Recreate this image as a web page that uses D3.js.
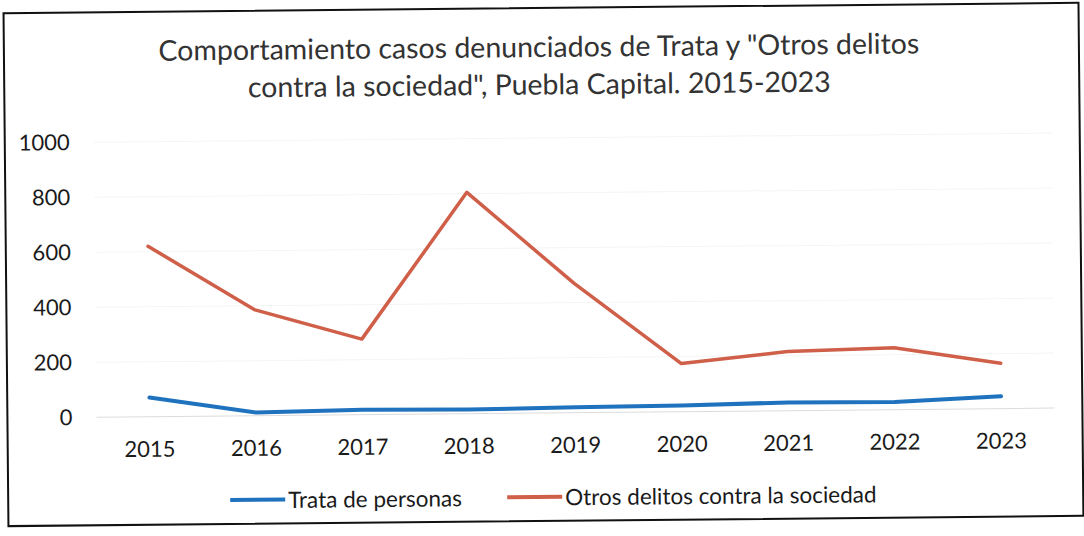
<!DOCTYPE html>
<html>
<head>
<meta charset="utf-8">
<script src="https://cdn.jsdelivr.net/npm/d3@7"></script>
<style>
  html, body { margin: 0; padding: 0; background: #ffffff; }
  svg { display: block; }
  text { font-family: Lato, "Open Sans", sans-serif; }
</style>
</head>
<body>
<svg id="chart" width="1084" height="536"></svg>
<script>
const years = ["2015","2016","2017","2018","2019","2020","2021","2022","2023"];
const trata = [70, 12, 18, 15, 20, 22, 30, 28, 45];
const otros = [620, 385, 275, 805, 470, 175, 215, 225, 165];
const yTicks = [0, 200, 400, 600, 800, 1000];
const titleLines = ["Comportamiento casos denunciados de Trata y \"Otros delitos", "contra la sociedad\", Puebla Capital. 2015-2023"];
const seriesNames = ["Trata de personas", "Otros delitos contra la sociedad"];
const colors = ["#1f72bd", "#cf5f48"];

const svg = d3.select("#chart");
const root = svg.append("g").attr("transform", "rotate(-0.55, 542, 268)");

// frame
root.append("rect")
  .attr("x", 6).attr("y", 8).attr("width", 1075).attr("height", 513)
  .attr("fill", "#ffffff").attr("stroke", "#111").attr("stroke-width", 2);

const plot = { left: 95, right: 1053, top: 138, bottom: 413 };

const x = d3.scaleBand().domain(years).range([plot.left, plot.right]);
const y = d3.scaleLinear().domain([0, 1000]).range([plot.bottom, plot.top]);

// gridlines (very faint)
root.append("g").selectAll("line").data(yTicks).join("line")
  .attr("x1", plot.left).attr("x2", plot.right)
  .attr("y1", d => y(d)).attr("y2", d => y(d))
  .attr("stroke", d => d === 0 ? "#dcdcdc" : "#f4f4f4")
  .attr("stroke-width", 1);

// y axis labels
const yAxis = d3.axisLeft(y).tickValues(yTicks).tickFormat(d3.format("d")).tickSize(0).tickPadding(0);
const gy = root.append("g").attr("transform", `translate(71,0)`).call(yAxis);
gy.select(".domain").remove();
gy.selectAll("text").attr("font-size", 22).attr("fill", "#1a1a1a");

// x axis labels
const xAxis = d3.axisBottom(x).tickSize(0).tickPadding(0);
const gx = root.append("g").attr("transform", `translate(0,${plot.bottom})`).call(xAxis);
gx.select(".domain").remove();
gx.selectAll("text").attr("font-size", 22).attr("fill", "#1a1a1a")
  .attr("y", 40).attr("dy", 0);

// lines
const line = d3.line()
  .x((d, i) => x(years[i]) + x.bandwidth() / 2)
  .y(d => y(d));

root.append("path").datum(otros)
  .attr("d", line).attr("fill", "none")
  .attr("stroke", colors[1]).attr("stroke-width", 3.5)
  .attr("stroke-linejoin", "round").attr("stroke-linecap", "round");

root.append("path").datum(trata)
  .attr("d", line).attr("fill", "none")
  .attr("stroke", colors[0]).attr("stroke-width", 4)
  .attr("stroke-linejoin", "round").attr("stroke-linecap", "round");

// title (two separate lines)
root.append("g").selectAll("text").data(titleLines).join("text")
  .attr("text-anchor", "middle")
  .attr("font-size", 28.5).attr("fill", "#333333")
  .attr("x", 541).attr("y", (d, i) => 57 + i * 37.5).text(d => d);

// legend
const legendItems = [
  { name: seriesNames[0], color: colors[0], x0: 228 },
  { name: seriesNames[1], color: colors[1], x0: 505 }
];
const lg = root.append("g");
legendItems.forEach(it => {
  lg.append("line").attr("x1", it.x0).attr("x2", it.x0 + 55)
    .attr("y1", 497).attr("y2", 497)
    .attr("stroke", it.color).attr("stroke-width", 4);
  lg.append("text").attr("x", it.x0 + 58).attr("y", 497)
    .attr("dominant-baseline", "central")
    .attr("font-size", 22.5).attr("fill", "#1a1a1a").text(it.name);
});
</script>
</body>
</html>
